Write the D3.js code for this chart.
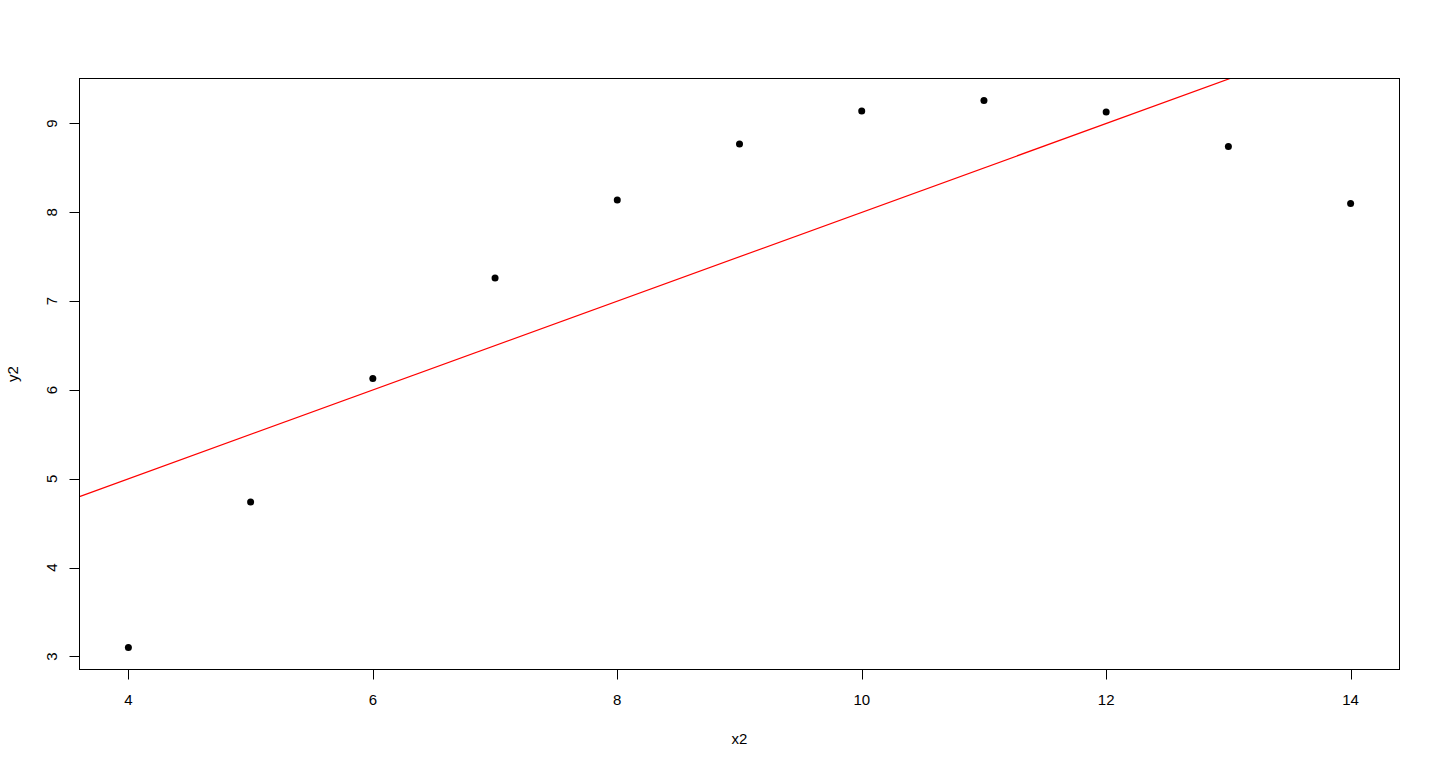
<!DOCTYPE html>
<html>
<head>
<meta charset="utf-8">
<script src="https://cdn.jsdelivr.net/npm/d3@7"></script>
<style>
  body { margin: 0; background: #fff; }
  text { font-family: "Liberation Sans", Arial, sans-serif; fill: #000; }
</style>
</head>
<body>
<div id="chart"></div>
<script>
// Anscombe set 2
const x2 = [10, 8, 13, 9, 11, 14, 6, 4, 12, 7, 5];
const y2 = [9.14, 8.14, 8.74, 8.77, 9.26, 8.10, 6.13, 3.10, 9.13, 7.26, 4.74];
const xTicks = [4, 6, 8, 10, 12, 14];
const yTicks = [3, 4, 5, 6, 7, 8, 9];
// abline(a, b)
const lineIntercept = 3;
const lineSlope = 0.5;

const W = 1440, H = 768;
const box = {left: 79.5, right: 1399.5, top: 78.5, bottom: 669.5};
const fontSize = "15px";

// R style 4% padding on the data range
const pad = (arr) => {
  const [lo, hi] = d3.extent(arr);
  const p = (hi - lo) * 0.04;
  return [lo - p, hi + p];
};

const x = d3.scaleLinear().domain(pad(x2)).range([box.left, box.right]);
const y = d3.scaleLinear().domain(pad(y2)).range([box.bottom, box.top]);

const svg = d3.select("#chart").append("svg")
  .attr("width", W)
  .attr("height", H);

svg.append("clipPath").attr("id", "plotclip")
  .append("rect")
  .attr("x", box.left).attr("y", box.top)
  .attr("width", box.right - box.left)
  .attr("height", box.bottom - box.top);

//points
svg.append("g")
  .selectAll("circle")
  .data(x2.map((d, i) => ({x: d, y: y2[i]})))
  .join("circle")
  .attr("cx", d => x(d.x))
  .attr("cy", d => y(d.y))
  .attr("r", 3.5)
  .attr("fill", "#000");

//regression line, clipped to the plot region
const [x0, x1] = x.domain();
svg.append("line")
  .attr("clip-path", "url(#plotclip)")
  .attr("x1", x(x0)).attr("y1", y(lineIntercept + lineSlope * x0))
  .attr("x2", x(x1)).attr("y2", y(lineIntercept + lineSlope * x1))
  .attr("stroke", "#ff0000")
  .attr("stroke-width", 1.2);

//box
svg.append("rect")
  .attr("x", box.left).attr("y", box.top)
  .attr("width", box.right - box.left)
  .attr("height", box.bottom - box.top)
  .attr("fill", "none")
  .attr("stroke", "#000")
  .attr("stroke-width", 1);

//x axis
const xAxis = svg.append("g");
xAxis.selectAll("line")
  .data(xTicks)
  .join("line")
  .attr("x1", d => Math.round(x(d)) + 0.5).attr("x2", d => Math.round(x(d)) + 0.5)
  .attr("y1", box.bottom).attr("y2", box.bottom + 10)
  .attr("stroke", "#000");
xAxis.selectAll("text")
  .data(xTicks)
  .join("text")
  .attr("x", d => x(d))
  .attr("y", 705)
  .attr("text-anchor", "middle")
  .style("font-size", fontSize)
  .text(d => d);

//y axis
const yAxis = svg.append("g");
yAxis.selectAll("line")
  .data(yTicks)
  .join("line")
  .attr("y1", d => Math.round(y(d)) + 0.5).attr("y2", d => Math.round(y(d)) + 0.5)
  .attr("x1", box.left - 10).attr("x2", box.left)
  .attr("stroke", "#000");
yAxis.selectAll("text")
  .data(yTicks)
  .join("text")
  .attr("transform", d => `translate(57,${y(d)}) rotate(-90)`)
  .attr("text-anchor", "middle")
  .style("font-size", fontSize)
  .text(d => d);

//axis titles
svg.append("text")
  .attr("x", (box.left + box.right) / 2)
  .attr("y", 744)
  .attr("text-anchor", "middle")
  .style("font-size", fontSize)
  .text("x2");

svg.append("text")
  .attr("transform", `translate(18,${(box.top + box.bottom) / 2}) rotate(-90)`)
  .attr("text-anchor", "middle")
  .style("font-size", fontSize)
  .text("y2");
</script>
</body>
</html>
